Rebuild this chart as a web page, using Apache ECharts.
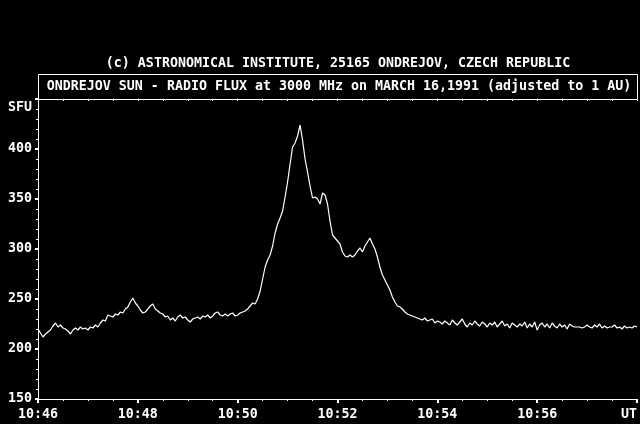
<!DOCTYPE html>
<html>
<head>
<meta charset="utf-8">
<script src="https://cdn.jsdelivr.net/npm/echarts@6/dist/echarts.min.js"></script>
<style>
  html, body { margin: 0; padding: 0; background: #000; }
  #chart { width: 640px; height: 424px; }
</style>
</head>
<body>
<div id="chart"></div>
<script>
// flux samples, one every 3 s starting at 10:46 UT
const stepSec = 3
const flux = [
  220, 216, 212, 215, 217, 219, 223, 226, 222, 224, 221, 220, 218, 215, 219, 221, 219, 222, 220, 221,
  219, 222, 221, 224, 222, 226, 229, 228, 234, 233, 232, 235, 234, 237, 236, 240, 242, 247, 251, 246,
  243, 239, 236, 237, 240, 243, 245, 240, 238, 236, 235, 232, 233, 229, 231, 228, 232, 234, 231, 232,
  229, 227, 230, 231, 232, 230, 233, 232, 234, 231, 233, 236, 237, 234, 233, 235, 233, 235, 236, 233,
  234, 236, 237, 238, 240, 243, 246, 245, 250, 258, 270, 282, 289, 294, 303, 316, 325, 331, 338, 352,
  367, 385, 402, 406, 413, 424, 409, 390, 377, 363, 351, 352, 350, 345, 356, 354, 345, 328, 314, 311,
  308, 305, 297, 293, 292, 294, 292, 294, 298, 301, 297, 303, 307, 311, 305, 300, 292, 282, 274, 269,
  264, 259, 252, 247, 243, 242, 240, 237, 235, 234, 233, 232, 231, 230, 229, 231, 228, 229, 230, 226,
  228, 227, 225, 228, 226, 224, 229, 226, 224, 227, 230, 225, 222, 226, 224, 228, 225, 223, 227, 225,
  222, 226, 224, 227, 222, 225, 228, 223, 225, 221, 226, 224, 222, 225, 223, 227, 221, 225, 222, 227,
  219, 224, 226, 222, 225, 221, 226, 223, 221, 225, 222, 224, 220, 225, 223, 222, 222, 222, 221, 222,
  224, 222, 221, 224, 222, 225, 221, 223, 221, 222, 222, 224, 221, 222, 220, 223, 221, 222, 221, 223,
  222
]
const yTicks = [150, 200, 250, 300, 350, 400]
const startLabel = '10:46'
const titleTop = '(c) ASTRONOMICAL INSTITUTE, 25165 ONDREJOV, CZECH REPUBLIC'
const titleBox = 'ONDREJOV SUN - RADIO FLUX at 3000 MHz on MARCH 16,1991 (adjusted to 1 AU)'

const seriesData = flux.map((v, i) => [i * stepSec, v])

const font = 'DejaVu Sans Mono'
const textFont = 'bold 13.3px "' + font + '"'

const timeLabel = (sec) => {
  if (sec >= 720) return 'UT'
  const [h, m] = startLabel.split(':').map(Number)
  const total = h * 60 + m + Math.round(sec / 60)
  return Math.floor(total / 60) + ':' + String(total % 60).padStart(2, '0')
}

const chart = echarts.init(document.getElementById('chart'))
const option = {
  backgroundColor: '#000',
  animation: false,
  grid: { left: 38, right: 3, top: 99, bottom: 25, outerBoundsMode: 'none', containLabel: false },
  graphic: [
    {
      type: 'text',
      style: { x: 338, y: 64, text: titleTop, fill: '#fff', font: textFont, align: 'center', verticalAlign: 'middle' }
    },
    {
      type: 'rect',
      shape: { x: 38.5, y: 74.5, width: 599, height: 25 },
      style: { fill: 'none', stroke: '#fff', lineWidth: 1 }
    },
    {
      type: 'text',
      style: { x: 339, y: 87, text: titleBox, fill: '#fff', font: textFont, align: 'center', verticalAlign: 'middle' }
    },
    {
      type: 'text',
      style: { x: 32, y: 108, text: 'SFU', fill: '#fff', font: textFont, align: 'right', verticalAlign: 'middle' }
    }
  ],
  xAxis: [
    {
      type: 'value', min: 0, max: 720, interval: 120,
      axisLine: { show: true, lineStyle: { color: '#fff', width: 1 } },
      axisTick: { show: true, length: 4, lineStyle: { color: '#fff', width: 2 } },
      minorTick: { show: true, splitNumber: 4, length: 2, lineStyle: { color: '#fff', width: 1 } },
      splitLine: { show: false },
      axisLabel: {
        color: '#fff', margin: 9, fontFamily: font, fontWeight: 'bold', fontSize: 13.3,
        showMinLabel: true, showMaxLabel: true, alignMaxLabel: 'right',
        formatter: timeLabel
      }
    },
    {
      type: 'value', position: 'top', min: 0, max: 720, interval: 30,
      axisLine: { show: true, lineStyle: { color: '#fff', width: 1 } },
      axisTick: { show: true, inside: true, length: 2, lineStyle: { color: '#fff', width: 1 } },
      splitLine: { show: false },
      axisLabel: { show: false }
    }
  ],
  yAxis: [
    {
      type: 'value', min: 150, max: 450, interval: 50,
      axisLine: { show: true, lineStyle: { color: '#fff', width: 1 } },
      axisTick: { show: true, length: 3, lineStyle: { color: '#fff', width: 2 } },
      minorTick: { show: true, splitNumber: 5, length: 2, lineStyle: { color: '#fff', width: 1 } },
      splitLine: { show: false },
      axisLabel: {
        color: '#fff', margin: 6, fontFamily: font, fontWeight: 'bold', fontSize: 13.3,
        formatter: (v) => (yTicks.includes(v) ? String(v) : '')
      }
    },
    {
      type: 'value', position: 'right', min: 150, max: 450,
      axisLine: { show: true, lineStyle: { color: '#fff', width: 1 } },
      axisTick: { show: false },
      splitLine: { show: false },
      axisLabel: { show: false }
    }
  ],
  series: [
    {
      type: 'line',
      data: seriesData,
      showSymbol: false,
      symbol: 'none',
      lineStyle: { color: '#fff', width: 1.2 }
    }
  ]
}
chart.setOption(option)
</script>
</body>
</html>
